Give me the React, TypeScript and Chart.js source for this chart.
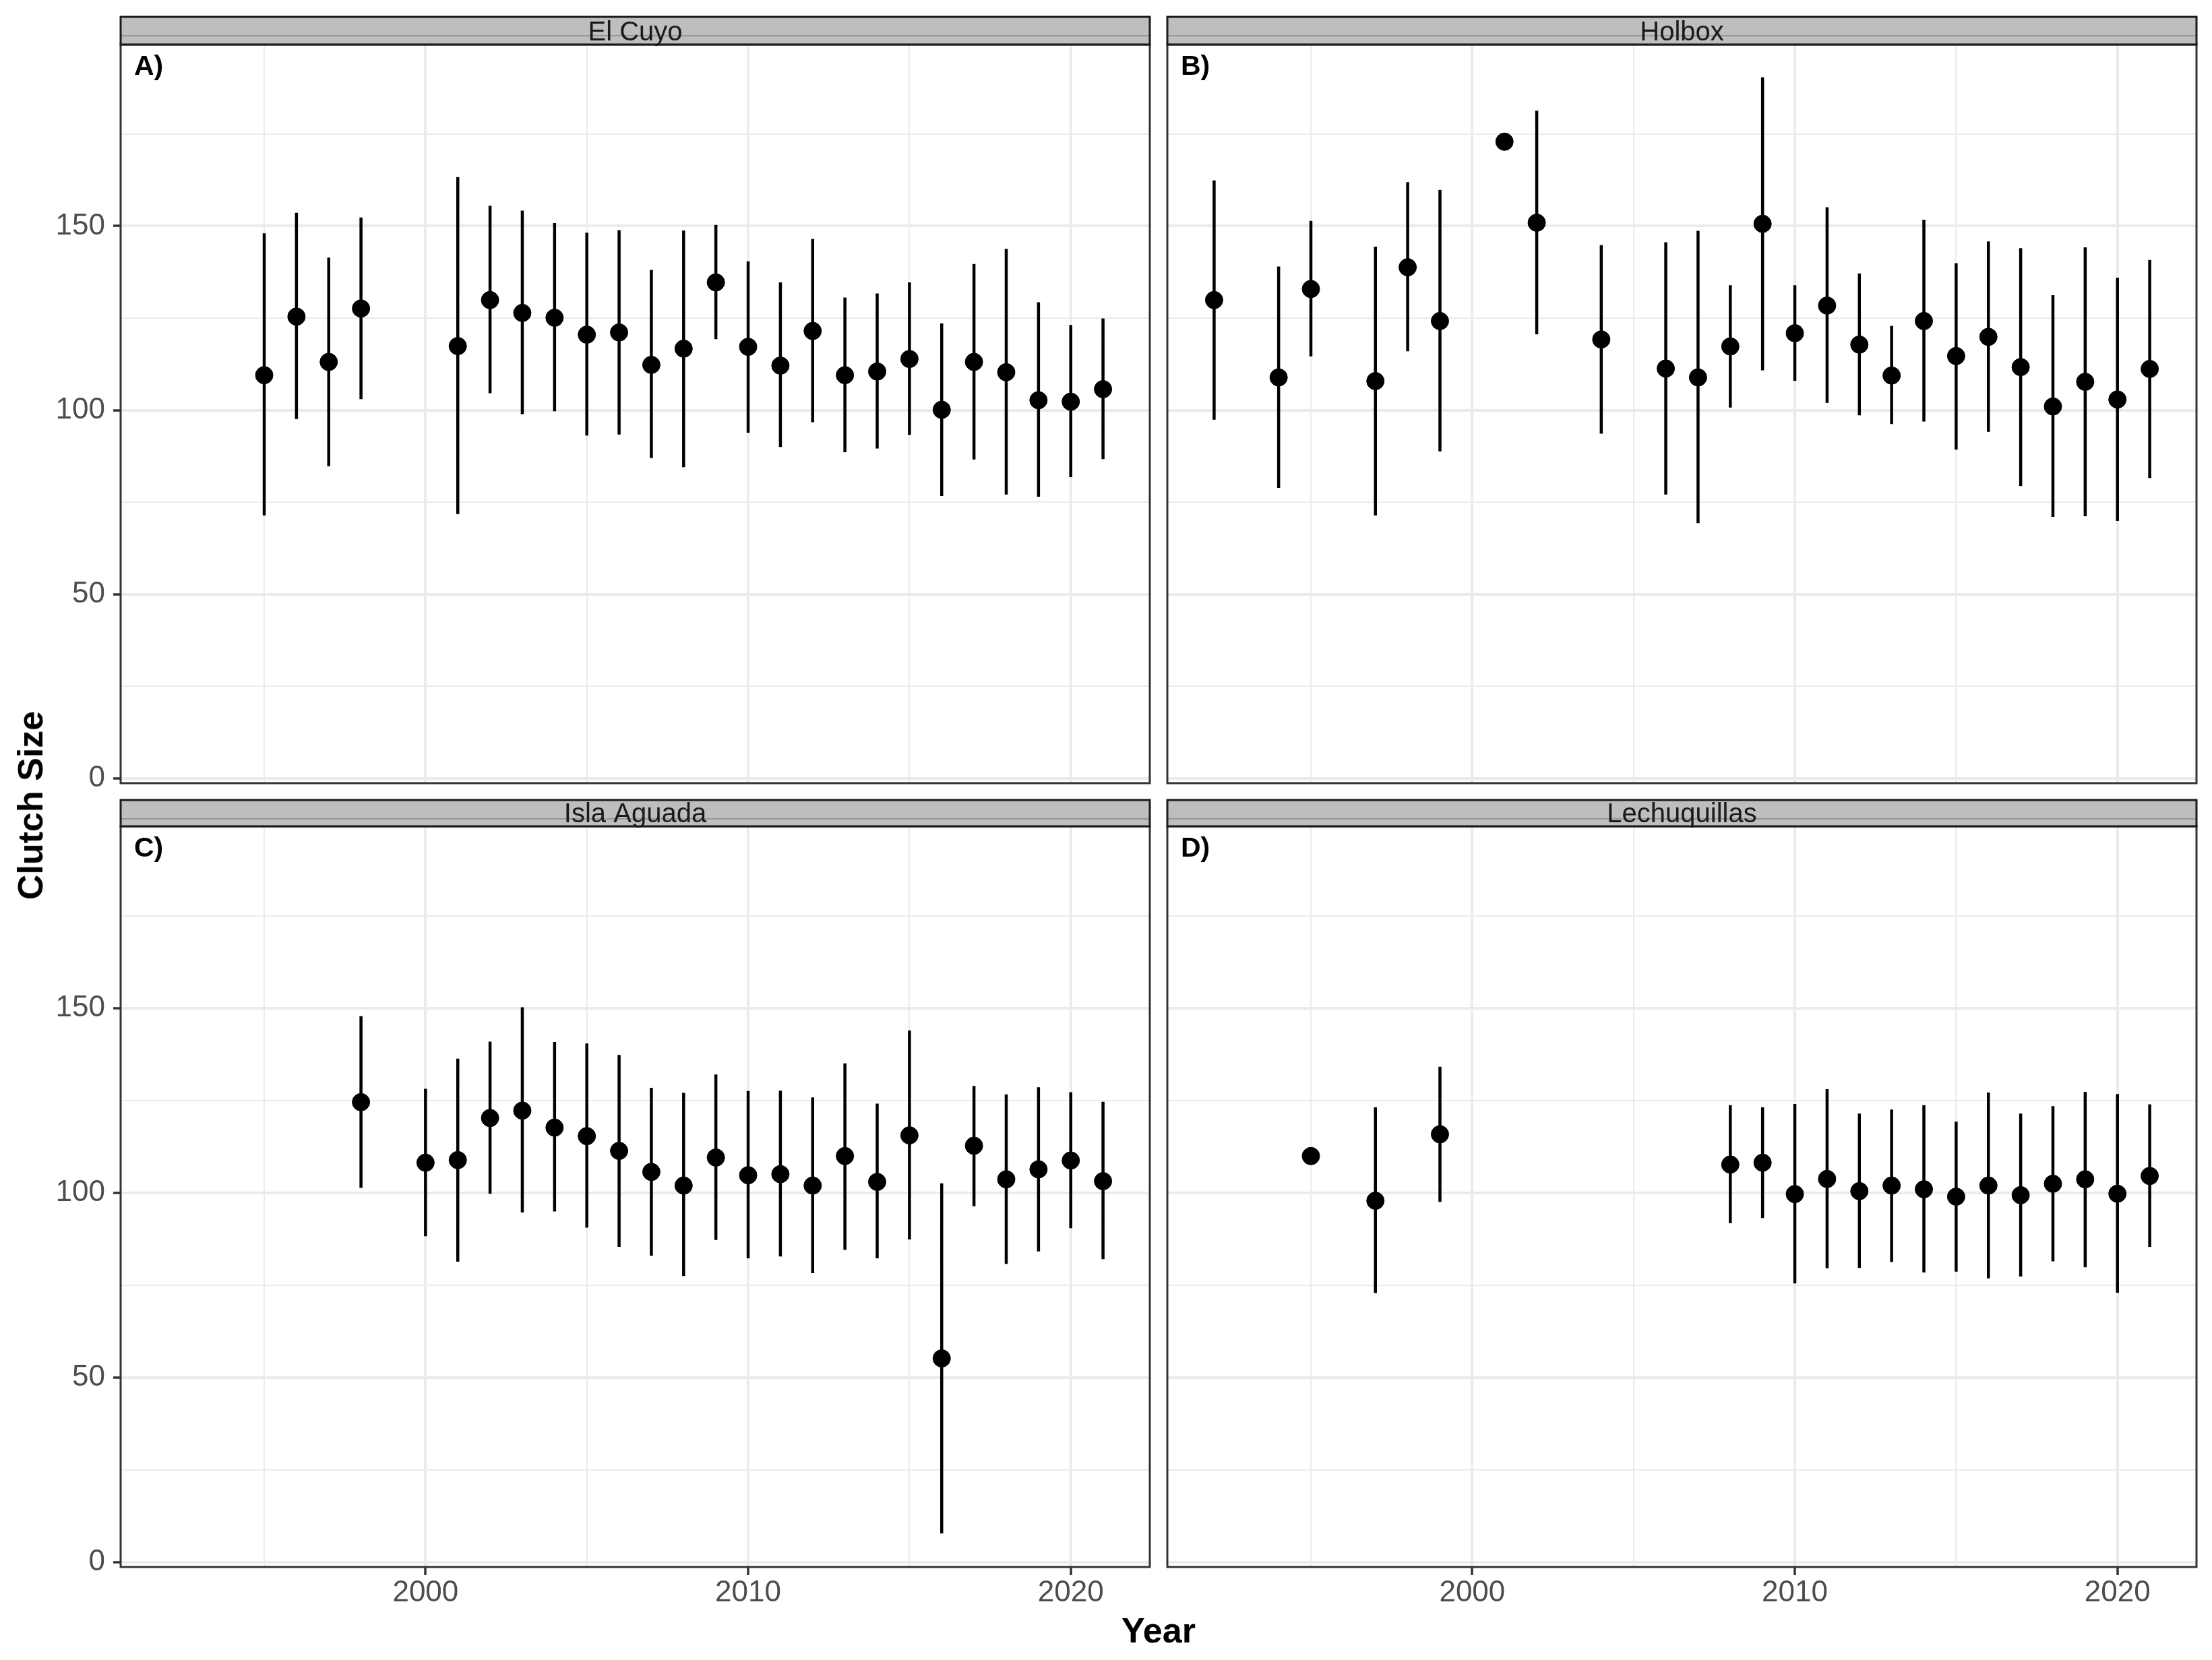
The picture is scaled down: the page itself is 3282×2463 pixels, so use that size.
import React, { useEffect, useRef } from "react";
import { Chart, registerables } from "chart.js";

Chart.register(...registerables);

const FONT = '"Liberation Sans", Arial, Helvetica, sans-serif';

// ---------- Data ----------
const elCuyoYears = [1995, 1996, 1997, 1998, 2001, 2002, 2003, 2004, 2005, 2006, 2007, 2008, 2009, 2010, 2011, 2012, 2013, 2014, 2015, 2016, 2017, 2018, 2019, 2020, 2021];
const elCuyoMean = [109.5, 125.4, 113.1, 127.6, 117.4, 129.9, 126.4, 125.1, 120.5, 121.1, 112.3, 116.7, 134.7, 117.2, 112.1, 121.5, 109.5, 110.5, 113.9, 100.1, 113.1, 110.3, 102.7, 102.3, 105.7];
const elCuyoUpper = [148.0, 153.6, 141.4, 152.3, 163.3, 155.5, 154.2, 150.8, 148.2, 148.9, 138.1, 148.8, 150.3, 140.4, 134.7, 146.5, 130.6, 131.7, 134.7, 123.6, 139.7, 143.8, 129.3, 123.1, 124.9];
const elCuyoLower = [71.4, 97.6, 84.8, 103.0, 71.8, 104.6, 98.9, 99.7, 93.1, 93.4, 87.0, 84.5, 119.3, 93.9, 90.0, 96.7, 88.6, 89.6, 93.3, 76.7, 86.6, 77.1, 76.5, 81.8, 86.7];

const holboxYears = [1992, 1994, 1995, 1997, 1998, 1999, 2001, 2002, 2004, 2006, 2007, 2008, 2009, 2010, 2011, 2012, 2013, 2014, 2015, 2016, 2017, 2018, 2019, 2020, 2021];
const holboxMean = [129.9, 108.9, 132.9, 107.9, 138.8, 124.2, 172.9, 150.9, 119.2, 111.3, 108.9, 117.3, 150.6, 120.9, 128.4, 117.8, 109.4, 124.2, 114.7, 119.9, 111.7, 101.0, 107.7, 102.9, 111.2];
const holboxUpper = [162.4, 139.0, 151.4, 144.4, 161.9, 159.8, null, 181.3, 144.8, 145.6, 148.7, 133.9, 190.4, 133.9, 155.1, 137.1, 122.9, 151.7, 139.9, 145.8, 144.0, 131.2, 144.2, 136.0, 140.8];
const holboxLower = [97.4, 78.9, 114.6, 71.4, 116.0, 88.8, null, 120.6, 93.6, 77.1, 69.3, 100.7, 110.8, 108.0, 102.0, 98.6, 96.2, 96.9, 89.3, 94.1, 79.4, 71.0, 71.2, 69.9, 81.6];

const islaAguadaYears = [1998, 2000, 2001, 2002, 2003, 2004, 2005, 2006, 2007, 2008, 2009, 2010, 2011, 2012, 2013, 2014, 2015, 2016, 2017, 2018, 2019, 2020, 2021];
const islaAguadaMean = [124.6, 108.2, 108.9, 120.3, 122.3, 117.7, 115.4, 111.4, 105.7, 102.0, 109.6, 104.8, 105.1, 102.0, 110.0, 103.0, 115.6, 55.2, 112.8, 103.7, 106.4, 108.8, 103.2];
const islaAguadaUpper = [147.9, 128.2, 136.4, 141.0, 150.3, 140.9, 140.5, 137.4, 128.5, 127.1, 132.1, 127.6, 127.7, 125.9, 135.1, 124.2, 144.0, 102.6, 129.0, 126.7, 128.6, 127.3, 124.7];
const islaAguadaLower = [101.4, 88.3, 81.4, 99.8, 94.7, 95.0, 90.6, 85.4, 83.0, 77.5, 87.3, 82.3, 82.8, 78.3, 84.6, 82.3, 87.4, 7.8, 96.4, 80.8, 84.2, 90.5, 82.1];

const lechuguillasYears = [1995, 1997, 1999, 2008, 2009, 2010, 2011, 2012, 2013, 2014, 2015, 2016, 2017, 2018, 2019, 2020, 2021];
const lechuguillasMean = [110.0, 97.9, 115.9, 107.7, 108.2, 99.7, 103.8, 100.5, 102.0, 101.0, 99.0, 102.0, 99.4, 102.5, 103.7, 99.8, 104.6];
const lechuguillasUpper = [null, 123.2, 134.2, 123.8, 123.2, 124.1, 128.1, 121.5, 122.6, 123.8, 119.3, 127.2, 121.5, 123.5, 127.4, 126.8, 124.0];
const lechuguillasLower = [null, 72.9, 97.6, 91.8, 93.2, 75.5, 79.6, 79.7, 81.3, 78.5, 78.7, 76.9, 77.4, 81.5, 79.9, 73.0, 85.4];

const xGridValues = [1995, 2000, 2005, 2010, 2015, 2020];
const xLabelValues = [2000, 2010, 2020];
const yGridValues = [0, 25, 50, 75, 100, 125, 150, 175];
const yLabelValues = [0, 50, 100, 150];

const X_MIN = 1990.55;
const X_MAX = 2022.45;
const Y_MIN = -1.28;
const Y_MAX = 199.3;

type Box = { left: number; top: number; width: number; height: number };
type Plot = { left: number; top: number; right: number; bottom: number };

type PanelProps = {
  site: string;
  tag: string;
  years: number[];
  mean: number[];
  lower: (number | null)[];
  upper: (number | null)[];
  showX: boolean;
  showY: boolean;
  canvas: Box;
  plot: Plot;
  stripTop: number;
};

function Panel(p: PanelProps) {
  const ref = useRef<HTMLCanvasElement>(null);

  useEffect(() => {
    const canvas = ref.current;
    if (!canvas) return;
    const points = p.years.map((x, i) => ({ x, y: p.mean[i] }));
    const bars: any[] = [];
    p.years.forEach((x, i) => {
      const lo = p.lower[i];
      const hi = p.upper[i];
      if (lo == null || hi == null) return;
      bars.push({ x, y: lo }, { x, y: hi }, { x, y: null });
    });

    const yAxisW = p.plot.left - p.canvas.left;
    const xAxisH = p.canvas.top + p.canvas.height - p.plot.bottom;
    const padTop = p.plot.top - p.canvas.top;
    const padRight = p.canvas.left + p.canvas.width - p.plot.right;

    const facetPlugin = {
      id: "facetDecor",
      afterDraw(chart: any) {
        const { ctx, chartArea: a } = chart;
        const w = a.right - a.left;
        ctx.save();
        // panel border
        ctx.strokeStyle = "#333333";
        ctx.lineWidth = 3;
        ctx.strokeRect(a.left, a.top, w, a.bottom - a.top);
        // strip
        const st = p.stripTop - p.canvas.top;
        const sh = a.top - st;
        ctx.fillStyle = "#BEBEBE";
        ctx.fillRect(a.left, st, w, sh);
        ctx.strokeStyle = "#8A8A8A";
        ctx.lineWidth = 1.5;
        ctx.beginPath();
        ctx.moveTo(a.left, st + 28);
        ctx.lineTo(a.right, st + 28);
        ctx.stroke();
        ctx.strokeStyle = "#1A1A1A";
        ctx.lineWidth = 3;
        ctx.strokeRect(a.left, st, w, sh);
        ctx.fillStyle = "#1A1A1A";
        ctx.font = `40px ${FONT}`;
        ctx.textAlign = "center";
        ctx.textBaseline = "alphabetic";
        ctx.fillText(p.site, (a.left + a.right) / 2, a.top - 6);
        // tag
        ctx.fillStyle = "#000000";
        ctx.font = `bold 41px ${FONT}`;
        ctx.textAlign = "left";
        ctx.fillText(p.tag, a.left + 20, a.top + 45);
        ctx.restore();
      },
    };

    const zeroPad = (s: any) => {
      s.paddingLeft = 0;
      s.paddingRight = 0;
      s.paddingTop = 0;
      s.paddingBottom = 0;
    };

    const chart = new Chart(canvas, {
      type: "line",
      data: {
        datasets: [
          {
            data: points,
            showLine: false,
            pointRadius: 13,
            pointBackgroundColor: "#000000",
            pointBorderColor: "#000000",
            pointBorderWidth: 1,
            borderColor: "#000000",
          },
          {
            data: bars,
            borderColor: "#000000",
            borderWidth: 4.5,
            pointRadius: 0,
            spanGaps: false,
            fill: false,
            tension: 0,
          },
        ] as any,
      },
      options: {
        animation: false,
        responsive: false,
        events: [],
        layout: { padding: { left: 0, top: padTop, right: padRight, bottom: 0 } },
        plugins: { legend: { display: false }, tooltip: { enabled: false } },
        scales: {
          x: {
            type: "linear",
            min: X_MIN,
            max: X_MAX,
            afterBuildTicks: (s: any) => {
              s.ticks = xGridValues.map((v) => ({ value: v }));
            },
            afterFit: (s: any) => {
              s.height = xAxisH;
              zeroPad(s);
            },
            border: { display: false },
            grid: {
              color: "#EBEBEB",
              lineWidth: (c: any) => (c.tick && xLabelValues.includes(c.tick.value) ? 4 : 2),
              drawTicks: p.showX,
              tickLength: 12,
              tickColor: (c: any) => (c.tick && xLabelValues.includes(c.tick.value) ? "#333333" : "rgba(0,0,0,0)"),
              tickWidth: 3.5,
            },
            ticks: {
              display: p.showX,
              autoSkip: false,
              maxRotation: 0,
              minRotation: 0,
              padding: 0,
              color: "#4D4D4D",
              font: { family: FONT, size: 44 },
              callback: (v: any) => (xLabelValues.includes(Number(v)) ? String(v) : ""),
            },
          },
          y: {
            type: "linear",
            min: Y_MIN,
            max: Y_MAX,
            afterBuildTicks: (s: any) => {
              s.ticks = yGridValues.map((v) => ({ value: v }));
            },
            afterFit: (s: any) => {
              s.width = yAxisW;
              zeroPad(s);
            },
            border: { display: false },
            grid: {
              color: "#EBEBEB",
              lineWidth: (c: any) => (c.tick && yLabelValues.includes(c.tick.value) ? 4 : 2),
              drawTicks: p.showY,
              tickLength: 11,
              tickColor: (c: any) => (c.tick && yLabelValues.includes(c.tick.value) ? "#333333" : "rgba(0,0,0,0)"),
              tickWidth: 3.5,
            },
            ticks: {
              display: p.showY,
              autoSkip: false,
              padding: 12,
              color: "#4D4D4D",
              font: { family: FONT, size: 44 },
              callback: (v: any) => (yLabelValues.includes(Number(v)) ? String(v) : ""),
            },
          },
        },
      } as any,
      plugins: [facetPlugin],
    });
    return () => chart.destroy();
  }, []);

  return (
    <canvas
      ref={ref}
      width={p.canvas.width}
      height={p.canvas.height}
      style={{
        position: "absolute",
        left: p.canvas.left,
        top: p.canvas.top,
        width: p.canvas.width,
        height: p.canvas.height,
      }}
    />
  );
}

export default function App() {
  return (
    <div
      style={{
        position: "absolute",
        left: 0,
        top: 0,
        width: 3282,
        height: 2463,
        background: "#FFFFFF",
        overflow: "hidden",
      }}
    >
      <Panel
        site="El Cuyo"
        tag="A)"
        years={elCuyoYears}
        mean={elCuyoMean}
        lower={elCuyoLower}
        upper={elCuyoUpper}
        showX={false}
        showY={true}
        canvas={{ left: 0, top: 0, width: 1720, height: 1176 }}
        plot={{ left: 179, top: 66, right: 1708, bottom: 1164 }}
        stripTop={25}
      />
      <Panel
        site="Holbox"
        tag="B)"
        years={holboxYears}
        mean={holboxMean}
        lower={holboxLower}
        upper={holboxUpper}
        showX={false}
        showY={false}
        canvas={{ left: 1718, top: 0, width: 1564, height: 1176 }}
        plot={{ left: 1730, top: 66, right: 3259, bottom: 1164 }}
        stripTop={25}
      />
      <Panel
        site="Isla Aguada"
        tag="C)"
        years={islaAguadaYears}
        mean={islaAguadaMean}
        lower={islaAguadaLower}
        upper={islaAguadaUpper}
        showX={true}
        showY={true}
        canvas={{ left: 0, top: 1176, width: 1720, height: 1287 }}
        plot={{ left: 179, top: 1226, right: 1708, bottom: 2325 }}
        stripTop={1187}
      />
      <Panel
        site="Lechuquillas"
        tag="D)"
        years={lechuguillasYears}
        mean={lechuguillasMean}
        lower={lechuguillasLower}
        upper={lechuguillasUpper}
        showX={true}
        showY={false}
        canvas={{ left: 1718, top: 1176, width: 1564, height: 1287 }}
        plot={{ left: 1730, top: 1226, right: 3259, bottom: 2325 }}
        stripTop={1187}
      />
      <div
        style={{
          position: "absolute",
          left: 1719,
          top: 2393,
          transform: "translateX(-50%)",
          font: `bold 52px ${FONT}`,
          lineHeight: "52px",
          color: "#000000",
          whiteSpace: "nowrap",
        }}
      >
        Year
      </div>
      <div
        style={{
          position: "absolute",
          left: 45,
          top: 1195,
          transform: "translate(-50%, -50%) rotate(-90deg)",
          font: `bold 52px ${FONT}`,
          lineHeight: "52px",
          color: "#000000",
          whiteSpace: "nowrap",
        }}
      >
        Clutch Size
      </div>
    </div>
  );
}
